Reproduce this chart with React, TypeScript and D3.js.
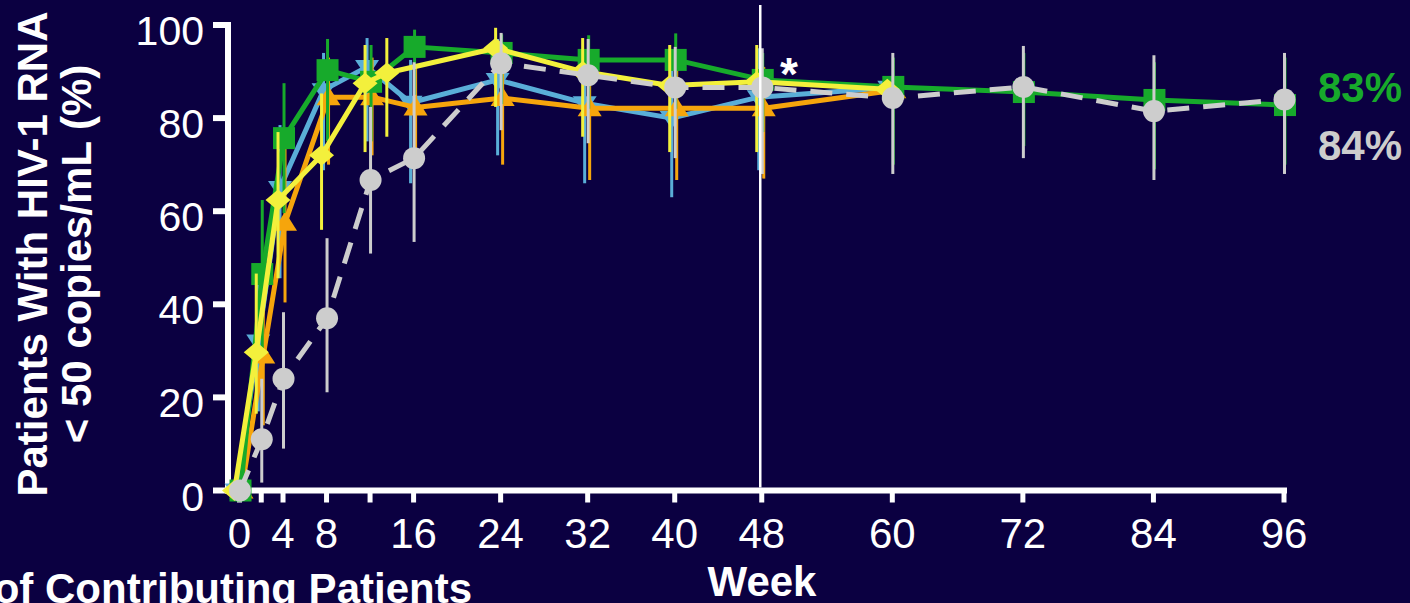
import React from "react";
import * as d3 from "d3";

// ---- data ----
const xTickWeeks = [0, 2, 4, 8, 12, 16, 24, 32, 40, 48, 60, 72, 84, 96];
const xTickLabels = [0, 4, 8, 16, 24, 32, 40, 48, 60, 72, 84, 96];
const yTicks = [0, 20, 40, 60, 80, 100];

const greenWeeks = [0, 2, 4, 8, 12, 16, 24, 32, 40, 48, 60, 72, 84, 96];
const greenVals = [0, 46.5, 75.7, 90.3, 87.8, 95.3, 94, 92.5, 92.5, 88.2, 86.7, 85.6, 83.9, 82.8];
const greenHigh = [0, 62.4, 87.5, 97, 95.7, 99, 98, 97.8, 98.2, 94, 93, 94, 92, 93];
const greenLow = [0, 30, 59.6, 75, 75, 85, 83, 82, 82, 77, 70, 74, 69, 70];

const blueWeeks = [0, 2, 4, 8, 12, 16, 24, 32, 40, 48, 60];
const blueVals = [0, 32, 65, 86, 91, 83.3, 88.2, 83.2, 80, 84.5, 86.5];
const blueHigh = [0, 47, 78.5, 94, 97.2, 92.5, 97, 94, 92, 95, 86.5];
const blueLow = [0, 17, 45.6, 68.8, 75, 66, 72, 66, 63, 68.8, 86.5];

const orangeWeeks = [0, 2, 4, 8, 12, 16, 24, 32, 40, 48, 60];
const orangeVals = [0, 29, 57.5, 84.5, 84.5, 82.3, 84.3, 82.1, 82.1, 82.1, 86];
const orangeHigh = [0, 45, 74, 93, 93, 91, 93, 91, 91, 91, 86];
const orangeLow = [0, 14, 40.4, 70, 72, 70, 70, 66.7, 66.7, 67, 86];

const yellowWeeks = [0, 2, 4, 8, 12, 14, 24, 32, 40, 48, 60];
const yellowVals = [0, 29.7, 62.4, 72, 87.5, 89.7, 95, 90, 87, 87.8, 86.2];
const yellowHigh = [0, 46.6, 77, 85.3, 95.7, 97.2, 99.4, 97.2, 95.7, 95.7, 86.2];
const yellowLow = [0, 16.5, 45.6, 56, 72.7, 76, 82.4, 76, 72.7, 72.7, 86.2];

const grayWeeks = [0, 2, 4, 8, 12, 16, 24, 32, 40, 48, 60, 72, 84, 96];
const grayVals = [0, 11, 24, 37, 66.7, 71.4, 91.8, 89.2, 86.6, 86.6, 84.3, 86.7, 81.5, 84];
const grayHigh = [0, 24, 38.3, 54.2, 82.4, 92, 98.3, 97, 95.3, 95, 94, 95.5, 93.5, 94];
const grayLow = [0, 1.7, 9, 21.1, 50.9, 53.4, 77.4, 74.6, 71.4, 68, 68, 71.4, 66.7, 68];

const endLabels = ["83%", "84%"];

// ---- layout ----
const W = 1410;
const H = 603;
const BG = "#0b0041";
const FONT = "'Liberation Sans', Arial, Helvetica, sans-serif";

const x = d3.scaleLinear().domain([0, 96]).range([239.5, 1284]);
const y = d3.scaleLinear().domain([0, 100]).range([490.5, 25]);

type Shape = "square" | "triDown" | "triUp" | "diamond" | "circle";
interface Series {
  key: string;
  weeks: number[];
  vals: number[];
  hi: number[];
  lo: number[];
  color: string;
  shape: Shape;
  dx: number;
  dashed?: boolean;
}

const series: Series[] = [
  { key: "blue", weeks: blueWeeks, vals: blueVals, hi: blueHigh, lo: blueLow, color: "#5aaed8", shape: "triDown", dx: -3 },
  { key: "orange", weeks: orangeWeeks, vals: orangeVals, hi: orangeHigh, lo: orangeLow, color: "#f6a50c", shape: "triUp", dx: 2 },
  { key: "green", weeks: greenWeeks, vals: greenVals, hi: greenHigh, lo: greenLow, color: "#17aa2b", shape: "square", dx: 1 },
  { key: "yellow", weeks: yellowWeeks, vals: yellowVals, hi: yellowHigh, lo: yellowLow, color: "#f3f03c", shape: "diamond", dx: -5 },
  { key: "gray", weeks: grayWeeks, vals: grayVals, hi: grayHigh, lo: grayLow, color: "#cdcdcd", shape: "circle", dx: 0.5, dashed: true },
];

function Marker({ shape, cx, cy, color }: { shape: Shape; cx: number; cy: number; color: string }) {
  switch (shape) {
    case "square":
      return <rect x={cx - 11} y={cy - 11} width={22} height={22} fill={color} />;
    case "triDown":
      return <path d={`M${cx - 12},${cy - 7} L${cx + 12},${cy - 7} L${cx},${cy + 11} Z`} fill={color} />;
    case "triUp":
      return <path d={`M${cx - 12},${cy + 8} L${cx + 12},${cy + 8} L${cx},${cy - 11} Z`} fill={color} />;
    case "diamond":
      return <path d={`M${cx - 12.5},${cy} L${cx},${cy - 10.5} L${cx + 12.5},${cy} L${cx},${cy + 10.5} Z`} fill={color} />;
    default:
      return <circle cx={cx} cy={cy} r={11} fill={color} />;
  }
}

export default function App() {
  const line = d3
    .line<[number, number]>()
    .x((d) => d[0])
    .y((d) => d[1]);

  return (
    <svg
      width={W}
      height={H}
      style={{ position: "absolute", left: 0, top: 0, display: "block" }}
      fontFamily={FONT}
    >
      <rect x={0} y={0} width={W} height={H} fill={BG} />

      {/* Y axis */}
      <line x1={228} x2={228} y1={y(100) - 3} y2={y(0) + 3} stroke="#fff" strokeWidth={6} />
      {yTicks.map((t) => (
        <g key={"yt" + t}>
          <line x1={213} x2={228} y1={y(t)} y2={y(t)} stroke="#fff" strokeWidth={6} />
          <text x={204} y={y(t) + 20} textAnchor="end" fill="#fff" fontSize={41}>
            {t}
          </text>
        </g>
      ))}

      {/* X axis */}
      <line x1={228} x2={x(96) + 3} y1={y(0)} y2={y(0)} stroke="#fff" strokeWidth={6} />
      {xTickWeeks.map((t) => (
        <line key={"xt" + t} x1={x(t)} x2={x(t)} y1={y(0)} y2={y(0) + 12} stroke="#fff" strokeWidth={5} />
      ))}
      {xTickLabels.map((t) => (
        <text key={"xl" + t} x={x(t)} y={548} textAnchor="middle" fill="#fff" fontSize={42}>
          {t}
        </text>
      ))}

      {/* Series */}
      {series.map((s) => {
        const pts: [number, number][] = s.weeks.map((w, i) => [x(w) + s.dx, y(s.vals[i])]);
        return (
          <g key={s.key}>
            {s.weeks.map((w, i) =>
              s.hi[i] > s.lo[i] ? (
                <line
                  key={"e" + i}
                  x1={x(w) + s.dx}
                  x2={x(w) + s.dx}
                  y1={y(s.hi[i])}
                  y2={y(s.lo[i])}
                  stroke={s.color}
                  strokeWidth={3}
                />
              ) : null
            )}
            <path
              d={line(pts) || ""}
              fill="none"
              stroke={s.color}
              strokeWidth={5}
              strokeDasharray={s.dashed ? "22 14" : undefined}
              strokeLinejoin="round"
            />
            {pts.map((p, i) => (
              <Marker key={"m" + i} shape={s.shape} cx={p[0]} cy={p[1]} color={s.color} />
            ))}
          </g>
        );
      })}

      {/* Week 48 reference line */}
      <line x1={x(48) - 1.5} x2={x(48) - 1.5} y1={5} y2={y(0) - 3} stroke="#fff" strokeWidth={2.5} />
      <text x={789} y={90} textAnchor="middle" fill="#fff" fontSize={46} fontWeight="bold">
        *
      </text>

      {/* End labels */}
      <text x={1318} y={102} fill="#17aa2b" fontSize={42} fontWeight="bold">
        {endLabels[0]}
      </text>
      <text x={1318} y={160} fill="#cdcdcd" fontSize={42} fontWeight="bold">
        {endLabels[1]}
      </text>

      {/* Axis titles */}
      <text
        transform="translate(47,254) rotate(-90)"
        textAnchor="middle"
        fill="#fff"
        fontSize={42}
        fontWeight="bold"
      >
        Patients With HIV-1 RNA
      </text>
      <text
        transform="translate(91,254) rotate(-90)"
        textAnchor="middle"
        fill="#fff"
        fontSize={42}
        fontWeight="bold"
      >
        {"< 50 copies/mL (%)"}
      </text>
      <text x={762} y={596} textAnchor="middle" fill="#fff" fontSize={42} fontWeight="bold">
        Week
      </text>
      <text x={472} y={603} textAnchor="end" fill="#fff" fontSize={42} fontWeight="bold">
        No. of Contributing Patients
      </text>
    </svg>
  );
}
